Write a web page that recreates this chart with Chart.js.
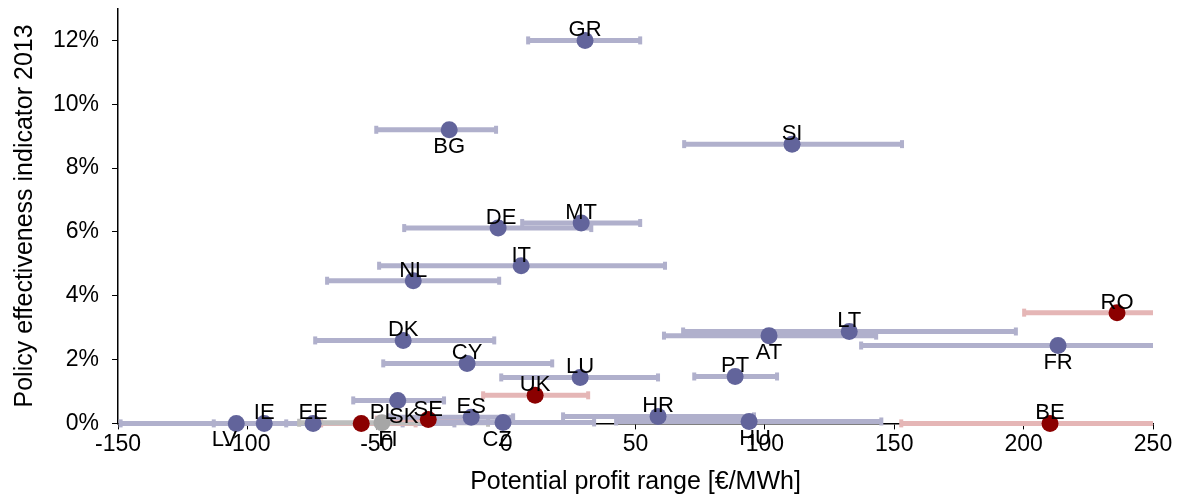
<!DOCTYPE html>
<html>
<head>
<meta charset="utf-8">
<title>Policy effectiveness vs potential profit</title>
<script src="https://cdn.jsdelivr.net/npm/chart.js@4"></script>
<style>
  html, body { margin: 0; padding: 0; background: #fff; }
  #wrap { width: 1183px; height: 499px; }
</style>
</head>
<body>
<div id="wrap"><canvas id="chart"></canvas></div>
<script>
// country codes
const countries = ['GR','BG','SI','DE','MT','IT','NL','DK','CY','LU','UK','PT','HR','AT','LT',
                   'FR','RO','BE','HU','LV','IE','EE','PL','SK','FI','SE','ES','CZ'];
// policy effectiveness indicator 2013 (%)
const effectiveness = [12.0, 9.2, 8.75, 6.12, 6.28, 4.94, 4.47, 2.6, 1.88, 1.44, 0.88, 1.47, 0.22, 2.75, 2.88,
                       2.44, 3.47, 0.0, 0.06, 0.0, 0.0, 0.0, 0.0, 0.72, 0.02, 0.12, 0.19, 0.03];
// potential profit (€/MWh): point, low and high end of range
const profitMid  = [30.5, -22, 110.5, -3.1, 29, 5.8, -35.9, -39.8, -15.1, 28.6, 11.2, 88.5, 58.7, 101.6, 132.6,
                    213.3, 236.1, 210.2, 93.9, -104.3, -93.5, -74.6, -56, -41.9, -48, -30.1, -13.5, -1.2];
const profitLow  = [8.5, -50.2, 68.8, -39.4, 6.2, -49.1, -69.2, -73.8, -47.5, -1.9, -8.9, 72.7, 22, 61, 68.4,
                    137.2, 200.2, 152.7, 42.5, -149, -113, -85, -71.5, -59.1, -80, -50, -45, -30];
const profitHigh = [51.8, -3.9, 153, 32.9, 51.8, 61.4, -2.7, -4.6, 17.8, 58.7, 31.7, 104.7, 95.8, 143, 197,
                    300, 300, 300, 145, -75, -40, -20, -35, -24, -7, -17.4, 2.7, 34];
// support scheme group: 0 = blue, 1 = red, 2 = grey
const group = [0,0,0,0,0,0,0,0,0,0,1,0,0,0,0,
               0,1,1,0,0,0,0,1,0,2,1,0,0];
// tick values
const xTicks = [-150, -100, -50, 0, 50, 100, 150, 200, 250];
const yTicks = [0, 2, 4, 6, 8, 10, 12];

// where each label sits relative to its dot (a = above, b = below)
const labelSide = ['a','b','a','a','a','a','a','a','a','a','a','a','a','b','a',
                   'b','a','a','b','b','a','a','a','b','b','a','a','b'];
const labelShift = { LV: -12, PL: 22, SK: 6, FI: 6, DE: 3, HU: 6, CZ: -6 };

const dotColors = ['#62649b', '#8b0000', '#a6a6a6'];
const barColors = ['#b0b0cc', '#e5b6b6', '#bdbdbd'];

const FONT = '"Liberation Sans", Arial, sans-serif';

const errorBars = {
  id: 'errorBars',
  beforeDatasetsDraw(chart) {
    const ctx = chart.ctx;
    const xs = chart.scales.x, ys = chart.scales.y;
    const area = chart.chartArea;
    ctx.save();
    ctx.beginPath();
    ctx.rect(area.left, area.top - 20, area.right - area.left, area.bottom - area.top + 40);
    ctx.clip();
    countries.forEach((c, i) => {
      const y = ys.getPixelForValue(effectiveness[i]);
      const x1 = xs.getPixelForValue(profitLow[i]);
      const x2 = xs.getPixelForValue(profitHigh[i]);
      ctx.strokeStyle = barColors[group[i]];
      ctx.fillStyle = barColors[group[i]];
      ctx.lineWidth = 5;
      ctx.beginPath();
      ctx.moveTo(x1, y);
      ctx.lineTo(x2, y);
      ctx.stroke();
      // end caps
      ctx.fillRect(x1 - 2, y - 4, 4, 8);
      ctx.fillRect(x2 - 2, y - 4, 4, 8);
    });
    ctx.restore();
  },
  afterDatasetsDraw(chart) {
    const ctx = chart.ctx;
    const xs = chart.scales.x, ys = chart.scales.y;
    ctx.save();
    ctx.font = '22px ' + FONT;
    ctx.fillStyle = '#000';
    ctx.textAlign = 'center';
    countries.forEach((c, i) => {
      const x = xs.getPixelForValue(profitMid[i]) + (labelShift[c] || 0);
      const y = ys.getPixelForValue(effectiveness[i]);
      if (labelSide[i] === 'a') {
        ctx.textBaseline = 'alphabetic';
        ctx.fillText(c, x, y - 4);
      } else {
        ctx.textBaseline = 'top';
        ctx.fillText(c, x, y + 6);
      }
    });
    ctx.restore();
  }
};

const points = countries.map((c, i) => ({ x: profitMid[i], y: effectiveness[i] }));

new Chart(document.getElementById('chart'), {
  type: 'scatter',
  data: {
    datasets: [{
      data: points,
      pointRadius: 8.5,
      pointHoverRadius: 8.5,
      pointBorderWidth: 0,
      pointBackgroundColor: group.map(g => dotColors[g]),
      clip: false
    }]
  },
  options: {
    responsive: true,
    maintainAspectRatio: false,
    animation: false,
    layout: { padding: { top: 8, right: 30, left: 10, bottom: 0 } },
    plugins: { legend: { display: false }, tooltip: { enabled: false } },
    scales: {
      x: {
        type: 'linear',
        min: -150, max: 250,
        afterBuildTicks: s => { s.ticks = xTicks.map(v => ({ value: v })); },
        grid: { drawOnChartArea: false, tickLength: 6, color: '#000' },
        border: { color: '#000', width: 1.5 },
        ticks: { color: '#000', font: { family: FONT, size: 23 }, padding: 1 },
        title: { display: true, text: 'Potential profit range [€/MWh]', color: '#000',
                 font: { family: FONT, size: 25 }, padding: { top: 8, bottom: 2 } }
      },
      y: {
        type: 'linear',
        min: 0, max: 13,
        afterBuildTicks: s => { s.ticks = yTicks.map(v => ({ value: v })); },
        afterFit: s => { s.paddingTop = 0; },
        grid: { drawOnChartArea: false, tickLength: 6, color: '#000' },
        border: { color: '#000', width: 1.5 },
        ticks: { color: '#000', font: { family: FONT, size: 23 }, padding: 13,
                 callback: v => v + '%' },
        title: { display: true, text: 'Policy effectiveness indicator 2013', color: '#000',
                 font: { family: FONT, size: 25 }, padding: { top: 0, bottom: 0 } }
      }
    }
  },
  plugins: [errorBars]
});
</script>
</body>
</html>
